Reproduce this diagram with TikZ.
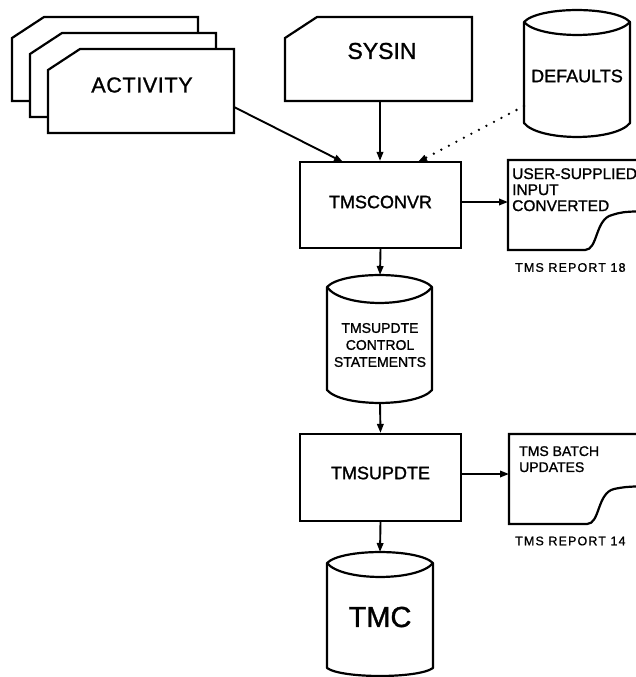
\documentclass[tikz,border=0pt]{standalone}
\usepackage{fontspec}
\setmainfont[FakeBold=1.2]{Liberation Sans}
\newfontfamily\widef[FakeBold=1.2,LetterSpace=3]{Liberation Sans}
\newfontfamily\widerf[FakeBold=1.0,LetterSpace=9]{Liberation Sans}
\usetikzlibrary{arrows.meta}
\tikzset{
  outline/.style={line width=2.2pt, line join=miter},
  procbox/.style={draw, line width=2.2pt, inner sep=0pt},
  arr/.style={line width=1.9pt, -{Triangle[length=9pt,width=6.5pt]}},
  dotarr/.style={line width=2.6pt, line cap=round, dash pattern=on 0pt off 8.5pt,
    -{Triangle[length=9pt,width=6.5pt,line width=0.4pt]}},
  txt/.style={inner sep=0pt},
}
\newcommand{\fsz}[1]{\fontsize{#1}{#1}\selectfont}
% cylinder: L R yt h1 h2 yb d
\newcommand{\cylshape}[7]{%
  \draw[outline, line join=round, fill=white]
    (#1,#3) .. controls ({#1+0.14*(#2-#1)},{#3-1.33*#4}) and ({#2-0.14*(#2-#1)},{#3-1.33*#4}) .. (#2,#3)
    -- (#2,#6) .. controls ({#2-0.14*(#2-#1)},{#6+1.33*#7}) and ({#1+0.14*(#2-#1)},{#6+1.33*#7}) .. (#1,#6)
    -- cycle;
  \draw[outline]
    (#1,#3) .. controls ({#1+0.14*(#2-#1)},{#3+1.33*#5}) and ({#2-0.14*(#2-#1)},{#3+1.33*#5}) .. (#2,#3);
}
\begin{document}
\begin{tikzpicture}[x=1pt,y=-1pt]
\clip (0,0) rectangle (636,677);
\fill[white] (0,0) rectangle (636,677);

% ACTIVITY card stack
\draw[outline, fill=white] (12,38) -- (44,17) -- (198,17) -- (198,101) -- (12,101) -- cycle;
\draw[outline, fill=white] (30,54) -- (62,33) -- (216,33) -- (216,117) -- (30,117) -- cycle;
\draw[outline, fill=white] (48,70) -- (80,49) -- (234,49) -- (234,133) -- (48,133) -- cycle;
\node[txt, font=\widef\fsz{21.5}] (activity) at (142,85) {ACTIVITY};
\coordinate (actout) at (234,107);

% SYSIN card
\draw[outline, fill=white] (285,38) -- (317,17) -- (472,17) -- (472,101) -- (285,101) -- cycle;
\node[txt, font=\fsz{23}] (sysin) at (382,51) {SYSIN};
\coordinate (sysout) at (380,101);

% DEFAULTS cylinder
\cylshape{524}{630}{22}{12}{13}{123}{14}
\node[txt, font=\fsz{18}] (defaults) at (577,76) {DEFAULTS};
\coordinate (defout) at (524,106);

% TMSCONVR
\node[procbox, minimum width=161pt, minimum height=86pt] (conv) at (380.5,205) {};
\node[txt, font=\fsz{18}] (convtxt) at (380.5,202) {TMSCONVR};
\coordinate (actin) at (343,162);
\coordinate (defin) at (418,162);

% Report 18
\draw[outline] (645,160) -- (508,160) -- (508,250) -- (585,250)
  .. controls (598,250) and (595,219) .. (612,215) .. controls (622,212) .. (645,211);
\coordinate (rep18in) at (508,202);
\node[txt, anchor=north west, align=left, font=\fontsize{15.5}{16}\selectfont] (rep18txt) at (512,168)
  {USER-SUPPLIED\\INPUT\\CONVERTED};
\node[txt, anchor=west, font=\widerf\fsz{12.5}] (rep18lbl) at (515,267.5) {TMS REPORT 18};

% TMSUPDTE control statements cylinder
\cylshape{327}{432}{287}{12}{16}{390}{13}
\node[txt, align=center, font=\fontsize{14}{17}\selectfont] (ctl) at (380,345)
  {TMSUPDTE\\CONTROL\\STATEMENTS};
\coordinate (ctltop) at (380,275);
\coordinate (ctlbot) at (380,403);

% TMSUPDTE
\node[procbox, minimum width=161pt, minimum height=87pt] (upd) at (380.5,477.5) {};
\node[txt, font=\fsz{18}] (updtxt) at (380.5,473) {TMSUPDTE};

% Report 14
\draw[outline] (645,434) -- (509,434) -- (509,524) -- (587,524)
  .. controls (600,524) and (597,493) .. (614,489) .. controls (624,487) .. (645,486);
\coordinate (rep14in) at (509,474);
\node[txt, anchor=north west, align=left, font=\fontsize{14}{16}\selectfont] (rep14txt) at (519,446)
  {TMS BATCH\\UPDATES};
\node[txt, anchor=west, font=\widerf\fsz{12.5}] (rep14lbl) at (515,541) {TMS REPORT 14};

% TMC cylinder
\cylshape{327}{433}{563}{11}{14}{668}{8}
\node[txt, font=\fsz{29}] (tmc) at (380,617) {TMC};
\coordinate (tmctop) at (380,552);

% connectors
\draw[arr] (actout) -- (actin);
\draw[arr] (sysout) -- (sysout |- conv.north);
\draw[dotarr] (defout) -- (defin);
\draw[arr] (conv.east |- rep18in) -- (rep18in);
\draw[arr] (conv.south) -- (ctltop);
\draw[arr] (ctlbot) -- (upd.north);
\draw[arr] (upd.east |- rep14in) -- (rep14in);
\draw[arr] (upd.south) -- (tmctop);
\end{tikzpicture}
\end{document}
